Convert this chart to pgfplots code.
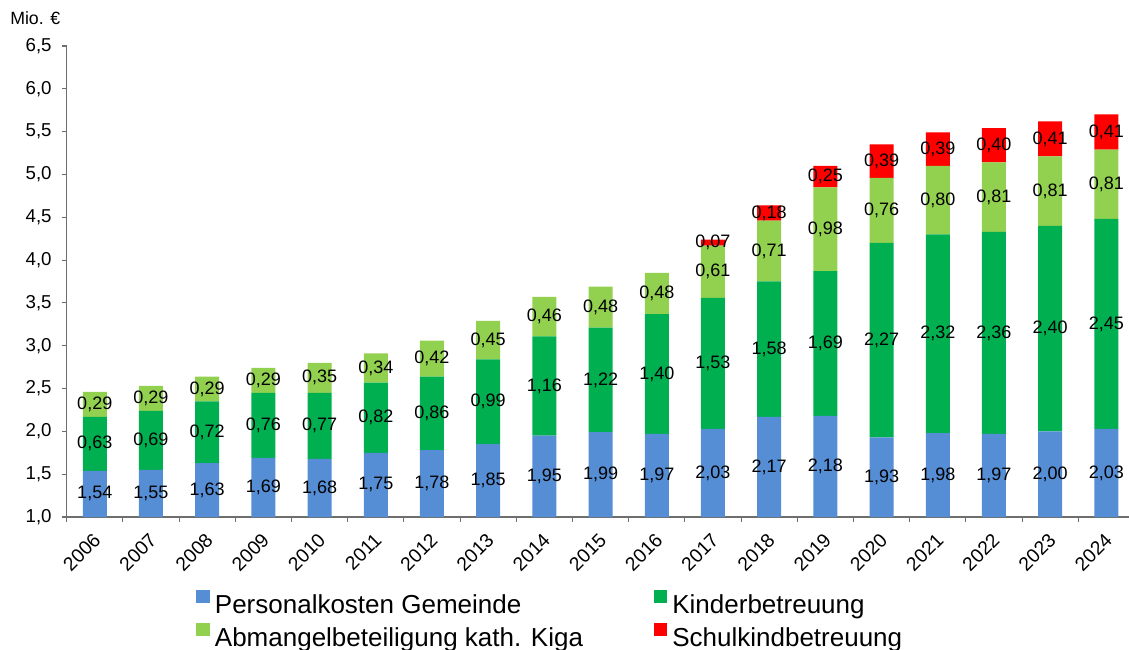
\documentclass[border=0pt]{standalone}
\usepackage{pgfplots}
\pgfplotsset{compat=1.18}
\usepackage{pgfplotstable}
\usepackage{fontspec}
\setmainfont{Liberation Sans}
\definecolor{cBlue}{HTML}{558ED5}
\definecolor{cDark}{HTML}{00B050}
\definecolor{cLight}{HTML}{92D050}
\definecolor{cRed}{HTML}{FF0000}
\definecolor{axgray}{HTML}{6E6E6E}
\pgfplotstableread{
x a b c d
0 1.54 0.63 0.29 0
1 1.55 0.69 0.29 0
2 1.63 0.72 0.29 0
3 1.69 0.76 0.29 0
4 1.68 0.77 0.35 0
5 1.75 0.82 0.34 0
6 1.78 0.86 0.42 0
7 1.85 0.99 0.45 0
8 1.95 1.16 0.46 0
9 1.99 1.22 0.48 0
10 1.97 1.40 0.48 0
11 2.03 1.53 0.61 0.07
12 2.17 1.58 0.71 0.18
13 2.18 1.69 0.98 0.25
14 1.93 2.27 0.76 0.39
15 1.98 2.32 0.80 0.39
16 1.97 2.36 0.81 0.40
17 2.00 2.40 0.81 0.41
18 2.03 2.45 0.81 0.41
}\data
% label positions: middle of each visible segment (axis starts at 1.0)
\pgfplotstablecreatecol[expr={(1+\thisrow{a})/2}]{ma}\data
\pgfplotstablecreatecol[expr={\thisrow{a}+\thisrow{b}/2}]{mb}\data
\pgfplotstablecreatecol[expr={\thisrow{a}+\thisrow{b}+\thisrow{c}/2}]{mc}\data
\pgfplotstablecreatecol[expr={\thisrow{a}+\thisrow{b}+\thisrow{c}+\thisrow{d}/2}]{md}\data
\pgfplotsset{
  common/.style={
    x=42.15pt, y=64.23pt,
    xmin=-0.5, xmax=18.4, ymin=1, ymax=6.5,
  },
  lbl/.style={draw=none, mark=none, forget plot,
    point meta=explicit,
    nodes near coords={\pgfmathprintnumber[fixed,fixed zerofill,precision=2,use comma,assume math mode=true]{\pgfplotspointmeta}},
    every node near coord/.style={anchor=center, inner sep=0pt, font=\fontsize{13.5}{15}\selectfont, text=black},
  },
}
\begin{document}
\begin{tikzpicture}
\begin{axis}[
  name=ax, common,
  ybar stacked, bar width=18pt,
  axis lines=left,
  axis line style={draw=axgray, line width=0.8pt, -},
  tick align=outside,
  major tick length=3.75pt, minor tick length=3.5pt,
  every tick/.style={draw=axgray, line width=0.8pt},
  ytick={1,1.5,2,2.5,3,3.5,4,4.5,5,5.5,6,6.5},
  yticklabel style={/pgf/number format/.cd, fixed, fixed zerofill, precision=1, use comma, assume math mode=true, /tikz/.cd, font=\fontsize{14}{16}\selectfont, xshift=-4pt},
  xtick={0,...,18},
  xticklabels={2006,2007,2008,2009,2010,2011,2012,2013,2014,2015,2016,2017,2018,2019,2020,2021,2022,2023,2024},
  major x tick style={draw=none},
  minor xtick={-0.5,0.5,...,17.5},
  xticklabel style={xshift=-2pt, yshift=-4.5pt, rotate=45, anchor=north east, inner sep=2pt, font=\fontsize{14.5}{16}\selectfont},
  legend columns=2,
  legend cell align=left,
  legend style={at={(0,0)}, anchor=north west, xshift=97pt, yshift=-54.5pt, draw=none, fill=none, inner sep=0pt, font=\fontsize{19.5}{22}\selectfont, /tikz/every even column/.append style={column sep=51pt}, /tikz/every odd column/.append style={column sep=2pt}, row sep=4pt},
]
\addplot[fill=cBlue, draw=none,
  legend image code/.code={\fill[cBlue] (0pt,1pt) rectangle (10pt,11pt);},
] table[x=x,y=a]{\data};
\addlegendentry{Personalkosten Gemeinde}
\addplot[fill=cDark, draw=none,
  legend image code/.code={\fill[cDark] (0pt,1pt) rectangle (10pt,11pt);},
] table[x=x,y=b]{\data};
\addlegendentry{Kinderbetreuung}
\addplot[fill=cLight, draw=none,
  legend image code/.code={\fill[cLight] (0pt,1pt) rectangle (10pt,11pt);},
] table[x=x,y=c]{\data};
\addlegendentry{Abmangelbeteiligung kath. Kiga}
\addplot[fill=cRed, draw=none,
  legend image code/.code={\fill[cRed] (0pt,1pt) rectangle (10pt,11pt);},
] table[x=x,y=d]{\data};
\addlegendentry{Schulkindbetreuung}
\end{axis}
\begin{axis}[common, hide axis, clip=false]
\addplot[lbl] table[x=x,y=ma,meta=a]{\data};
\addplot[lbl] table[x=x,y=mb,meta=b]{\data};
\addplot[lbl] table[x=x,y=mc,meta=c]{\data};
\addplot[lbl, skip coords between index={0}{11}] table[x=x,y=md,meta=d]{\data};
\end{axis}
\node[anchor=base west, inner sep=0pt, font=\fontsize{13.3}{15}\selectfont] at ([xshift=-42.5pt, yshift=15.75pt]ax.north west) {Mio. €};
\pgfresetboundingbox
\path[use as bounding box] ([xshift=-50pt, yshift=-99.75pt]ax.south west) rectangle ([xshift=796.75pt, yshift=387.75pt]ax.south west);
\end{tikzpicture}
\end{document}
